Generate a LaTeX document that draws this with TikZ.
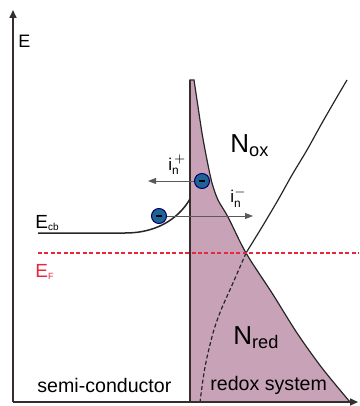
\documentclass[tikz,border=0pt]{standalone}
\usepackage{fontspec}
\setmainfont{Liberation Sans}
\usetikzlibrary{arrows.meta, positioning}
\definecolor{redoxpink}{RGB}{200,163,183}
\definecolor{fermired}{RGB}{228,40,64}
\definecolor{electronblue}{RGB}{30,100,150}
\definecolor{linegray}{RGB}{55,45,45}

\begin{document}
\begin{tikzpicture}[x=0.5pt,y=-0.5pt,
    axis/.style={line width=0.8pt, draw=linegray, -{Triangle[length=4pt,width=3.5pt]}},
    curve/.style={line width=0.6pt, draw=black!85},
    electron/.style={circle, fill=electronblue, draw=black!60!blue, line width=0.5pt,
        minimum size=7.5pt, inner sep=0pt},
    flux/.style={line width=0.45pt, draw=black!65, -{Triangle[length=4pt,width=3pt]}},
    txt/.style={inner sep=0pt, anchor=base west, font=\fontsize{9.8}{11}\selectfont}]
    \useasboundingbox (0,0) rectangle (359,406);

    % Redox system (pink area)
    \filldraw[fill=redoxpink, curve] (190,80) -- plot[smooth] coordinates {(194,80) (197,100) (202,133)
        (207,160) (212,183) (218,200) (228,217) (246,253) (272,293) (297,333) (322,368) (350,402)}
        -- (190,402) -- cycle;
    \draw[line width=1pt, linegray] (190,80) -- (190,402);

    % Oxidized / reduced distributions
    \draw[curve] plot[smooth] coordinates {(347,80) (337,97) (322,123) (307,150) (292,175)
        (278,200) (262,227) (246,253)};
    \draw[curve, dash pattern=on 2pt off 1.2pt] plot[smooth] coordinates {(246,253) (233,283)
        (221,310) (213,333) (205,367) (200,402)};

    % Band edge and Fermi level
    \draw[curve, line width=0.75pt] (38,233) -- (125,233) .. controls (160,233) and (180,216) .. (190,199);
    \draw[fermired, dash pattern=on 2pt off 1.2pt, line width=0.7pt] (38,253) -- (359,253);

    % Axes
    \draw[axis] (13,402) -- (13,10);
    \draw[axis] (13,402) -- (358,402);

    % Electrons and currents
    \node[electron] (e1) at (202,181) {\rule{3pt}{1.2pt}};
    \node[electron] (e2) at (159,216) {\rule{3pt}{1.2pt}};
    \coordinate (plus tip) at (148,181);
    \coordinate (minus tip) at (253,216);
    \draw[flux] (e1.west) -- (plus tip);
    \draw[flux] (e2.east) -- (minus tip);

    % Labels
    \node[txt, font=\fontsize{9}{10}\selectfont] (E) at (18,48) {E};
    \node[txt, font=\fontsize{9.5}{10}\selectfont] (Ecb) at (35,228)
        {E\raisebox{-1.2pt}{\fontsize{5}{6}\selectfont cb}};
    \node[txt, font=\fontsize{9.5}{10}\selectfont, text=fermired] (EF) at (35,277)
        {E\raisebox{-1.2pt}{\fontsize{4.5}{6}\selectfont F}};
    \node[txt, font=\fontsize{8.5}{10}\selectfont] (iplus) at (168,170) {$\mathrm{i}_{\mathrm{n}}^{\hspace{1pt}+}$};
    \node[txt, font=\fontsize{8.5}{10}\selectfont] (iminus) at (230,203) {$\mathrm{i}_{\mathrm{n}}^{-}$};
    \node[txt, font=\fontsize{13}{15}\selectfont] (Nox) at (230,153) {N\textsubscript{ox}};
    \node[txt, font=\fontsize{13}{15}\selectfont] (Nred) at (233,344) {N\textsubscript{red}};
    \node[txt] (sc) at (37,392) {semi-conductor};
    \node[txt] (rs) at (210,390) {redox system};
\end{tikzpicture}
\end{document}
